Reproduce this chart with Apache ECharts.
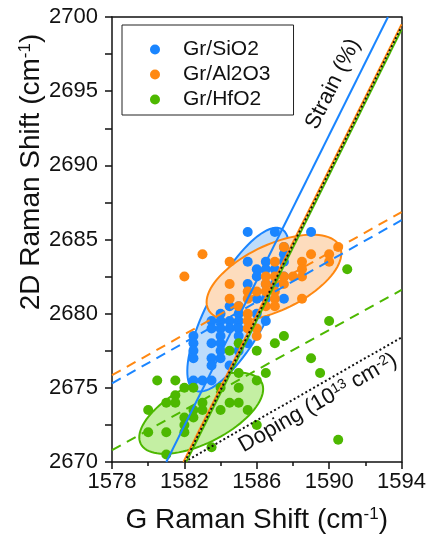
<!DOCTYPE html>
<html>
<head>
<meta charset="utf-8">
<script src="https://cdn.jsdelivr.net/npm/echarts@6/dist/echarts.min.js"></script>
<style>
  html, body { margin: 0; padding: 0; background: #fff; }
  #chart { width: 429px; height: 539px; }
</style>
</head>
<body>
<div id="chart"></div>
<script>
// G peak vs 2D peak positions (cm-1)
const sio2Points = [
  [1585.5, 2685.5], [1587, 2685.5], [1589, 2685.5],
  [1587.5, 2684.5], [1587.5, 2684],
  [1585.5, 2683.5], [1586.5, 2683.5], [1587.5, 2683.5],
  [1586, 2683], [1586.5, 2683], [1587, 2683],
  [1586, 2682.5], [1587.5, 2682.5],
  [1585.5, 2682], [1586.5, 2682], [1587, 2682],
  [1586, 2681], [1586.5, 2681], [1587.5, 2681],
  [1584.5, 2680.5], [1585, 2680.5],
  [1584, 2680], [1585, 2680], [1586, 2680],
  [1583.5, 2679.5], [1584, 2679.5], [1584.5, 2679.5], [1585, 2679.5], [1586.5, 2679.5],
  [1583.5, 2679], [1584, 2679], [1584.5, 2679], [1585, 2679],
  [1582.5, 2678.5], [1584, 2678.5], [1585, 2678.5],
  [1582.5, 2678], [1583.5, 2678], [1584, 2678], [1585.5, 2678],
  [1582.5, 2677.5], [1584, 2677.5], [1585, 2677.5],
  [1582.5, 2677], [1583.5, 2677], [1584, 2677],
  [1583.5, 2676.5], [1584.5, 2676.5],
  [1582.5, 2675.5], [1583, 2675.5], [1583.5, 2675.5]
]
const al2o3Points = [
  [1583, 2684], [1582, 2682.5],
  [1584.5, 2683.5], [1587, 2683.5], [1588.5, 2683.5], [1590, 2683.5],
  [1589, 2684], [1590, 2684], [1590.5, 2684.5], [1587.5, 2684.5],
  [1588.5, 2683],
  [1586.5, 2682.5], [1587, 2682.5], [1587.5, 2682.5], [1588, 2682.5], [1588.5, 2682.5],
  [1584.5, 2682], [1586.5, 2682], [1587.5, 2682],
  [1585.5, 2681.5], [1586, 2681.5], [1586.5, 2681.5], [1587, 2681.5],
  [1584.5, 2681], [1585.5, 2681], [1587, 2681], [1588.5, 2681],
  [1585, 2680.5], [1586.5, 2680.5], [1587, 2680.5],
  [1585.5, 2680], [1585.5, 2679.5], [1585.5, 2679], [1586, 2679], [1586, 2678.5]
]
const hfo2Points = [
  [1591, 2683], [1590, 2679.5], [1587.5, 2678.5], [1587, 2678], [1585, 2678],
  [1584.5, 2677.5], [1586, 2677.5], [1589, 2677],
  [1586.5, 2676], [1585, 2676], [1589.5, 2676], [1586, 2675.5], [1585, 2675],
  [1584.5, 2674], [1585, 2674], [1585.5, 2673.5], [1584, 2673.5], [1586, 2672.5],
  [1590.5, 2671.5],
  [1580.5, 2675.5], [1581.5, 2675.5], [1582, 2675], [1582.5, 2675], [1581.5, 2674.5],
  [1581, 2674], [1581.5, 2674], [1583, 2674], [1582.5, 2673.5], [1583, 2673.5],
  [1580, 2673.5], [1582, 2673], [1582.5, 2673], [1582, 2672.5],
  [1580, 2672], [1581, 2672], [1582, 2672], [1581, 2670.5], [1583.5, 2671], [1584, 2675]
]

// ellipses: centre x, centre y, half-axis u (dx, dy), half-axis v (dx, dy)
const ellipseSiO2 = [1584.97, 2680.27, 2.40, 5.44, 1.46, -0.95]
const ellipseAl2O3 = [1586.95, 2682.42, 3.64, 2.11, 0.78, -2.0]
const ellipseHfO2 = [1582.93, 2673.29, 3.34, 2.07, 0.75, -1.79]

// strain lines (solid) and doping lines (dashed / dotted), end points
const strainSiO2 = [[1581, 2670], [1593.25, 2700]]
const strainAl2O3 = [[1581.95, 2670], [1594, 2699.5]]
const strainHfO2 = [[1582.1, 2670], [1594, 2699.15]]
const strainRef = [[1582.02, 2670], [1594, 2699.35]]
const dopingSiO2 = [[1578, 2675.3], [1594, 2686.3]]
const dopingAl2O3 = [[1578, 2675.85], [1594, 2686.85]]
const dopingHfO2 = [[1578, 2670.8], [1594, 2681.6]]
const dopingRef = [[1582, 2670], [1594, 2678.4]]

const xTicks = { min: 1578, max: 1594, interval: 4 }
const yTicks = { min: 2670, max: 2700, interval: 5 }

const BLUE = '#1a85ff'
const ORANGE = '#ff8811'
const GREEN = '#4db800'
const FONT = '"Liberation Sans", Arial, sans-serif'

const chart = echarts.init(document.getElementById('chart'))

const ellipseSeries = (name, data, color, fill, z) => ({
  type: 'custom',
  name,
  z,
  silent: true,
  data: [data],
  renderItem: (params, api) => {
    const cx = api.value(0), cy = api.value(1)
    const ux = api.value(2), uy = api.value(3)
    const vx = api.value(4), vy = api.value(5)
    const pts = []
    for (let i = 0; i < 90; i++) {
      const t = i / 90 * Math.PI * 2
      pts.push(api.coord([
        cx + ux * Math.cos(t) + vx * Math.sin(t),
        cy + uy * Math.cos(t) + vy * Math.sin(t),
      ]))
    }
    return {
      type: 'polygon',
      shape: { points: pts },
      style: { fill, stroke: color, lineWidth: 2 },
    }
  },
})

const scatter = (name, data, color) => ({
  type: 'scatter',
  name,
  z: 3,
  data,
  symbolSize: 10,
  itemStyle: { color, opacity: 1 },
})

const line = (data, color, type, z = 4) => ({
  type: 'line',
  data,
  z,
  symbol: 'none',
  silent: true,
  lineStyle: { color, width: 2, type },
})

const plain = (v) => String(v)

chart.setOption({
  animation: false,
  grid: { left: 112, top: 17, right: 27, bottom: 75 },
  legend: {
    data: ['Gr/SiO2', 'Gr/Al2O3', 'Gr/HfO2'],
    orient: 'vertical',
    left: 122,
    top: 25,
    padding: [14, 23, 5, 28],
    itemGap: 4,
    itemWidth: 10,
    itemHeight: 10,
    icon: 'circle',
    borderColor: '#222',
    borderWidth: 1,
    textStyle: { fontSize: 21, fontFamily: FONT, color: '#111', padding: [0, 0, 0, 18] },
  },
  xAxis: [{
    type: 'value',
    ...xTicks,
    name: 'G Raman Shift (cm{sup|-1})',
    nameLocation: 'middle',
    nameGap: 44,
    nameTextStyle: {
      fontSize: 28, fontFamily: FONT, color: '#111',
      rich: { sup: { fontSize: 17, verticalAlign: 'top', fontFamily: FONT, color: '#111' } },
    },
    axisLine: { onZero: false, lineStyle: { color: '#111', width: 1.5 } },
    axisTick: { length: 7, lineStyle: { color: '#111', width: 1.5 } },
    minorTick: { show: true, splitNumber: 2, length: 4, lineStyle: { color: '#111', width: 1.5 } },
    axisLabel: { fontSize: 22, fontFamily: FONT, color: '#111', margin: 9, formatter: plain },
    splitLine: { show: false },
  }, {
    type: 'value',
    ...xTicks,
    position: 'top',
    axisLine: { onZero: false, lineStyle: { color: '#111', width: 1.5 } },
    axisTick: { show: false },
    axisLabel: { show: false },
    splitLine: { show: false },
  }],
  yAxis: [{
    type: 'value',
    ...yTicks,
    axisLine: { show: true, onZero: false, lineStyle: { color: '#111', width: 1.5 } },
    axisTick: { length: 7, lineStyle: { color: '#111', width: 1.5 } },
    minorTick: { show: true, splitNumber: 2, length: 7, lineStyle: { color: '#111', width: 1.5 } },
    axisLabel: { fontSize: 22, fontFamily: FONT, color: '#111', margin: 14, formatter: plain },
    splitLine: { show: false },
  }, {
    type: 'value',
    ...yTicks,
    position: 'right',
    axisLine: { show: true, onZero: false, lineStyle: { color: '#111', width: 1.5 } },
    axisTick: { show: false },
    axisLabel: { show: false },
    splitLine: { show: false },
  }],
  graphic: [{
    type: 'text',
    x: 31,
    y: 172,
    rotation: Math.PI / 2,
    style: {
      text: '2D Raman Shift (cm{sup|-1})',
      font: `28px ${FONT}`,
      fill: '#111',
      align: 'center',
      verticalAlign: 'middle',
      rich: { sup: { fontSize: 17, verticalAlign: 'top', fontFamily: FONT, fill: '#111' } },
    },
  }, {
    type: 'text',
    x: 333,
    y: 84,
    rotation: 1.11,
    z: 10,
    style: { text: 'Strain (%)', font: `22px ${FONT}`, fill: '#111', align: 'center', verticalAlign: 'middle' },
  }, {
    type: 'text',
    x: 318,
    y: 403,
    rotation: 0.52,
    z: 10,
    style: {
      text: 'Doping (10{sup|13} cm{sup|-2})',
      font: `22px ${FONT}`,
      fill: '#111',
      align: 'center',
      verticalAlign: 'middle',
      rich: { sup: { fontSize: 14, verticalAlign: 'top', fontFamily: FONT, fill: '#111' } },
    },
  }],
  series: [
    ellipseSeries('eHfO2', ellipseHfO2, GREEN, '#c4efa3', 1),
    ellipseSeries('eSiO2', ellipseSiO2, BLUE, '#bddcfb', 1.1),
    ellipseSeries('eAl2O3', ellipseAl2O3, ORANGE, '#fddcbd', 1.2),
    scatter('Gr/SiO2', sio2Points, BLUE),
    scatter('Gr/Al2O3', al2o3Points, ORANGE),
    scatter('Gr/HfO2', hfo2Points, GREEN),
    line(dopingAl2O3, ORANGE, [10, 7]),
    line(dopingSiO2, BLUE, [10, 7]),
    line(dopingHfO2, GREEN, [10, 7]),
    line(dopingRef, '#111', [2, 2.5]),
    line(strainSiO2, BLUE, 'solid'),
    line(strainAl2O3, ORANGE, 'solid'),
    line(strainHfO2, GREEN, 'solid'),
    line(strainRef, '#111', [2, 2.5], 5),
  ],
})
</script>
</body>
</html>
